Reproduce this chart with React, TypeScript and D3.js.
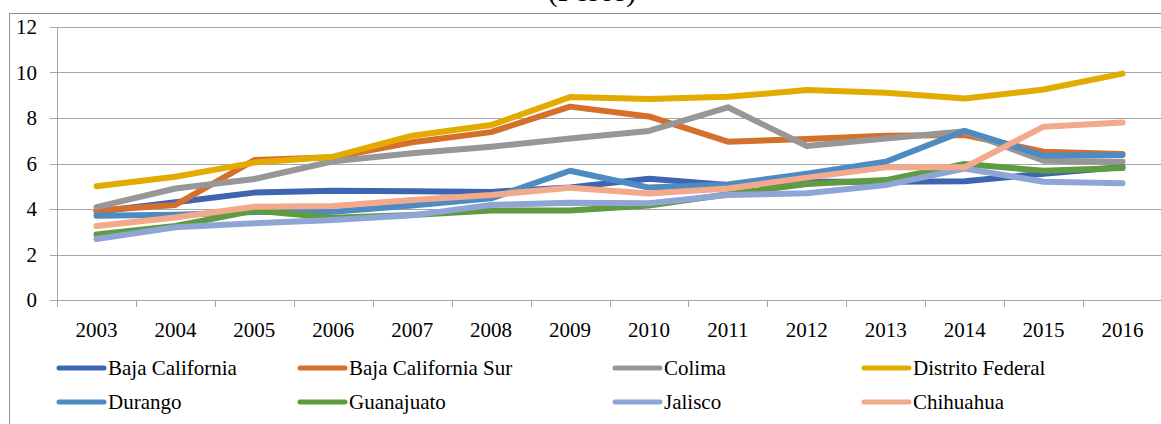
import React from "react";
import * as d3 from "d3";

const years = ["2003", "2004", "2005", "2006", "2007", "2008", "2009", "2010", "2011", "2012", "2013", "2014", "2015", "2016"];
const yTicks = [0, 2, 4, 6, 8, 10, 12];

const bajaCalifornia = [3.88, 4.3, 4.72, 4.8, 4.78, 4.75, 4.95, 5.33, 5.05, 5.2, 5.2, 5.22, 5.55, 5.85];
const bajaCaliforniaSur = [3.93, 4.18, 6.15, 6.27, 6.93, 7.38, 8.5, 8.07, 6.96, 7.08, 7.22, 7.25, 6.52, 6.42];
const colima = [4.08, 4.9, 5.32, 6.1, 6.45, 6.74, 7.1, 7.43, 8.47, 6.77, 7.1, 7.42, 6.12, 6.08];
const distritoFederal = [5.0, 5.42, 6.04, 6.3, 7.22, 7.69, 8.92, 8.84, 8.93, 9.23, 9.11, 8.86, 9.25, 9.95];
const durango = [3.7, 3.75, 3.87, 3.88, 4.15, 4.47, 5.68, 4.94, 5.08, 5.55, 6.08, 7.44, 6.35, 6.37];
const guanajuato = [2.88, 3.25, 3.93, 3.62, 3.74, 3.93, 3.93, 4.15, 4.65, 5.1, 5.27, 5.98, 5.68, 5.8];
const jalisco = [2.68, 3.2, 3.37, 3.52, 3.72, 4.18, 4.28, 4.25, 4.62, 4.69, 5.05, 5.78, 5.2, 5.13];
const chihuahua = [3.25, 3.63, 4.1, 4.13, 4.4, 4.62, 4.93, 4.68, 4.9, 5.38, 5.83, 5.83, 7.62, 7.8];

const seriesNames = ["Baja California", "Baja California Sur", "Colima", "Distrito Federal", "Durango", "Guanajuato", "Jalisco", "Chihuahua"];
const seriesValues = [bajaCalifornia, bajaCaliforniaSur, colima, distritoFederal, durango, guanajuato, jalisco, chihuahua];
const seriesColors = ["#3e65b0", "#d5702c", "#979797", "#e3ab00", "#4e8bc2", "#5f9b3f", "#8fa5d6", "#f2a98c"];

const width = 1161;
const height = 424;
const left = 57;
const right = 1162;
const top = 27;
const bottom = 300;
const fontStyle = { fontFamily: '"Liberation Serif", "Times New Roman", Tinos, FreeSerif, monospace' };
const gridColor = "#a6a6a6";

// small serif sizes fall back to a sans face here, so draw at 24px and scale down to ~21px
function Label({ x, y, anchor = "start", children }: { x: number; y: number; anchor?: string; children: React.ReactNode }) {
  return (
    <text
      transform={`translate(${x},${y}) scale(0.875)`}
      textAnchor={anchor}
      fontSize={24}
      style={fontStyle}
    >
      {children}
    </text>
  );
}

export default function App() {
  const x = d3.scaleBand().domain(years).range([left, right]);
  const y = d3.scaleLinear().domain([0, 12]).range([bottom, top]);
  const cx = (i: number) => (x(years[i]) as number) + x.bandwidth() / 2;

  const line = d3.line<number>()
    .x((d, i) => cx(i))
    .y(d => y(d));

  const edges = years.map(d => x(d) as number).concat([right]);

  // legend is 4 columns x 2 rows, Excel-style uneven column spacing
  const legendX = [57, 298, 613, 862];
  const legendY = [368, 402];

  return (
    <svg width={width} height={height} style={{ position: "absolute", left: 0, top: 0, display: "block" }}>
      <rect x={9.5} y={13.5} width={1200} height={500} fill="none" stroke="#8c8c8c" />

      {/* title, only its lower part shows in the source */}
      <text x={592} y={1} textAnchor="middle" fontSize={30} style={fontStyle}>(Pesos)</text>

      {yTicks.map(t => (
        <g key={"y" + t}>
          <line
            x1={left - 7}
            x2={right}
            y1={Math.round(y(t)) + 0.5}
            y2={Math.round(y(t)) + 0.5}
            stroke={gridColor}
          />
          <Label x={37} y={y(t) + 7} anchor="end">{t}</Label>
        </g>
      ))}

      <line x1={left + 0.5} x2={left + 0.5} y1={top} y2={bottom} stroke={gridColor} />
      {edges.map((e, i) => (
        <line
          key={"t" + i}
          x1={Math.round(e) + 0.5}
          x2={Math.round(e) + 0.5}
          y1={bottom}
          y2={bottom + 7}
          stroke={gridColor}
        />
      ))}
      {years.map((yr, i) => (
        <Label key={yr} x={cx(i)} y={337} anchor="middle">{yr}</Label>
      ))}

      {seriesValues.map((vals, i) => (
        <path
          key={seriesNames[i]}
          d={line(vals) || ""}
          fill="none"
          stroke={seriesColors[i]}
          strokeWidth={6}
          strokeLinecap="round"
          strokeLinejoin="round"
        />
      ))}

      {seriesNames.map((name, i) => (
        <g key={"l" + name} transform={`translate(${legendX[i % 4]},${legendY[Math.floor(i / 4)]})`}>
          <line x1={2} x2={47} stroke={seriesColors[i]} strokeWidth={5} strokeLinecap="round" />
          <Label x={51} y={7}>{name}</Label>
        </g>
      ))}
    </svg>
  );
}
